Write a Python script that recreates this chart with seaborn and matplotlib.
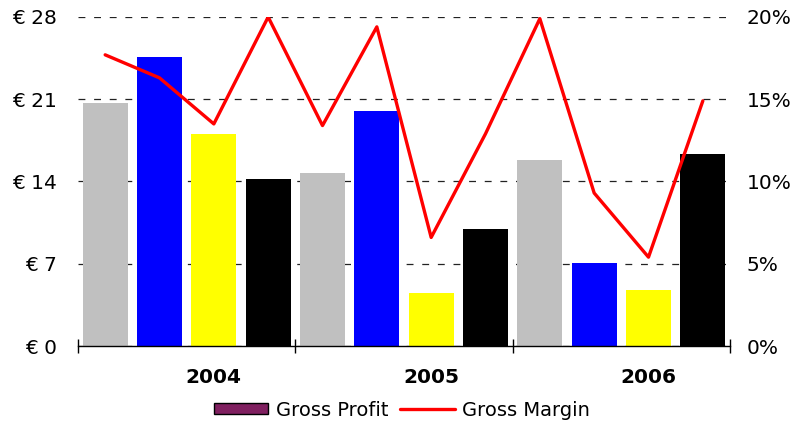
import matplotlib
matplotlib.use("Agg")
import matplotlib.pyplot as plt
from matplotlib.patches import Patch
from matplotlib.lines import Line2D
import seaborn as sns
import pandas as pd
import numpy as np

years = ["2004", "2005", "2006"]
quarters = ["Q1", "Q2", "Q3", "Q4"]
categories = [f"{y} {q}" for y in years for q in quarters]
gross_profit = [20.7, 24.6, 18.0, 14.2, 14.7, 20.0, 4.5, 10.0, 15.8, 7.1, 4.8, 16.3]
gross_margin = [17.7, 16.3, 13.5, 20.0, 13.4, 19.4, 6.6, 12.9, 19.9, 9.3, 5.4, 14.9]
quarter_colors = ["#C0C0C0", "#0000FF", "#FFFF00", "#000000"]
left_ticks = [0, 7, 14, 21, 28]
right_ticks = [0, 5, 10, 15, 20]

sns.set_theme(style="white")
plt.rcParams["font.family"] = ["DejaVu Sans"]
plt.rcParams["text.color"] = "black"
plt.rcParams["xtick.color"] = "black"
plt.rcParams["ytick.color"] = "black"
plt.rcParams["xtick.labelcolor"] = "black"
plt.rcParams["ytick.labelcolor"] = "black"

df = pd.DataFrame({"cat": categories, "profit": gross_profit, "margin": gross_margin})
palette = {c: quarter_colors[i % 4] for i, c in enumerate(categories)}

fig = plt.figure(figsize=(7.94, 4.26), dpi=100)
ax = fig.add_axes([78 / 794, 1 - 346 / 426, (730 - 78) / 794, (346 - 17) / 426])

sns.barplot(data=df, x="cat", y="profit", hue="cat", palette=palette, order=categories,
            hue_order=categories, width=0.83, legend=False, ax=ax, saturation=1, zorder=2,
            linewidth=0, edgecolor="none")

ax.set_ylim(0, 28)
ax.set_xlim(-0.5, len(categories) - 0.5)
ax.set_yticks(left_ticks)
ax.set_yticklabels([f"€ {v}" for v in left_ticks], fontsize=14.5, color="black")
ax.tick_params(axis="y", length=0, pad=15)
ax.yaxis.grid(True, linestyle=(0, (5.5, 7)), color="#222222", linewidth=0.9, zorder=0)
ax.set_axisbelow(True)
ax.set_xlabel("")
ax.set_ylabel("")

# group boundaries (major ticks) and year labels (minor ticks)
bounds = np.arange(0, len(categories) + 1, 4) - 0.5
ax.set_xticks(bounds)
ax.set_xticklabels([""] * len(bounds))
ax.tick_params(axis="x", which="major", direction="inout", length=10, width=1, color="black", bottom=True)
ax.set_xticks([i * 4 + 2 for i in range(len(years))], minor=True)
ax.set_xticklabels(years, minor=True, fontsize=14.5, fontweight="bold", color="black")
ax.tick_params(axis="x", which="minor", length=0, pad=16, bottom=True)

for s in ["left", "right", "top"]:
    ax.spines[s].set_visible(False)
ax.spines["bottom"].set_color("black")
ax.spines["bottom"].set_linewidth(1)

ax2 = ax.twinx()
sns.lineplot(x=np.arange(len(categories)), y=gross_margin, color="#FF0000", linewidth=2.4, ax=ax2, zorder=5)
ax2.set_ylim(0, 20)
ax2.set_yticks(right_ticks)
ax2.set_yticklabels([f"{v}%" for v in right_ticks], fontsize=14.5, color="black")
ax2.tick_params(axis="y", length=0, pad=12)
ax2.grid(False)
for s in ["left", "right", "top", "bottom"]:
    ax2.spines[s].set_visible(False)
ax2.set_xlim(-0.5, len(categories) - 0.5)

handles = [Patch(facecolor="#802060", edgecolor="black", linewidth=1),
           Line2D([0], [0], color="#FF0000", linewidth=2.4)]
leg = fig.legend(handles, ["Gross Profit", "Gross Margin"], loc="center", bbox_to_anchor=(402 / 794, 1 - 410 / 426),
                 ncol=2, frameon=False, fontsize=14, handlelength=2.8, handleheight=0.55, columnspacing=0.6,
                 handletextpad=0.4)
for t in leg.get_texts():
    t.set_color("black")

fig.savefig("out.png", dpi=100)
